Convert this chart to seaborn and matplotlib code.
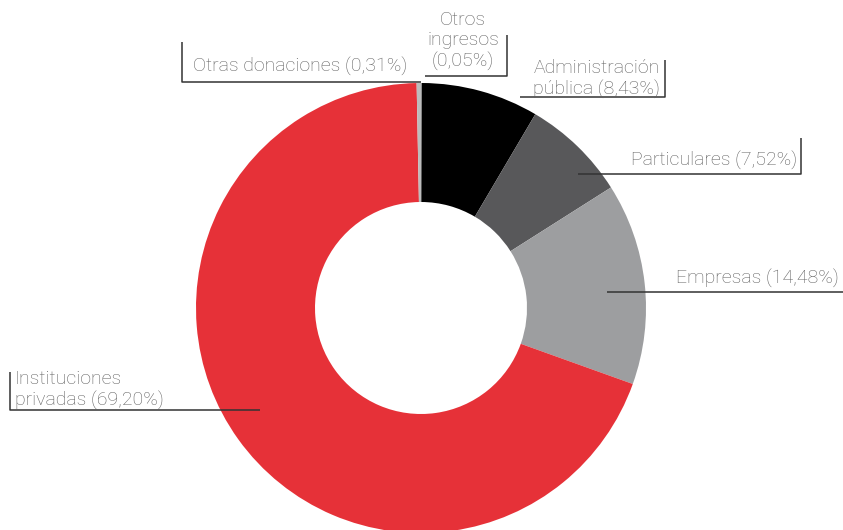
import matplotlib
matplotlib.use("Agg")
import matplotlib.pyplot as plt
import seaborn as sns

# Datos del gráfico (orden horario desde arriba)
categorias = ["Otros ingresos", "Administración pública", "Particulares",
              "Empresas", "Instituciones privadas", "Otras donaciones"]
porcentajes = [0.05, 8.43, 7.52, 14.48, 69.20, 0.31]
etiquetas = ["Otros\ningresos\n(0,05%)", "Administración\npública (8,43%)",
             "Particulares (7,52%)", "Empresas (14,48%)",
             "Instituciones\nprivadas (69,20%)", "Otras donaciones (0,31%)"]
colores = ["#bcbcbc", "#000000", "#58585a", "#9d9ea0", "#e63138", "#bcbcbc"]

sns.set_theme(style="white")
plt.rcParams["font.family"] = ["Roboto", "DejaVu Sans"]

W, H = 843, 530
fig = plt.figure(figsize=(W / 100, H / 100), dpi=100)
ax = fig.add_axes([0, 0, 1, 1])

def py(y):
    # coordenada vertical en píxeles (desde arriba)
    return H - y

cx, cy, r = 421, py(308), 225
ax.pie(porcentajes, colors=colores, startangle=90, counterclock=False,
       center=(cx, cy), radius=r,
       wedgeprops=dict(width=r - 106, linewidth=0))

ax.set_xlim(0, W)
ax.set_ylim(0, H)
ax.set_aspect("equal")
ax.axis("off")

texto = dict(fontsize=14, color="#5f5f5f", fontweight="light", linespacing=1.2)
linea = dict(color="#333333", lw=1.1, solid_capstyle="butt")

# Líneas guía (posición de la etiqueta -> sector)
guias = {
    "Otros ingresos": [(507, 35), (507, 76), (425, 76)],
    "Administración pública": [(665, 60), (665, 97), (520, 97)],
    "Particulares": [(801, 138), (801, 174), (578, 174)],
    "Empresas": [(843, 292), (607, 292)],
    "Instituciones privadas": [(10, 372), (10, 410), (260, 410)],
    "Otras donaciones": [(182, 42), (182, 82), (421, 82)],
}
for cat in categorias:
    pts = guias[cat]
    ax.plot([p[0] for p in pts], [py(p[1]) for p in pts], **linea)

pos = {
    "Otros ingresos": (463, 41, "center"),
    "Administración pública": (660, 79, "right"),
    "Particulares": (797, 160, "right"),
    "Empresas": (839, 279, "right"),
    "Instituciones privadas": (15, 390, "left"),
    "Otras donaciones": (193, 67, "left"),
}
for cat, lab in zip(categorias, etiquetas):
    x, y, ha = pos[cat]
    ax.text(x, py(y), lab, ha=ha, va="center", multialignment=ha, **texto)

fig.savefig("out.png", dpi=100, facecolor="white")
